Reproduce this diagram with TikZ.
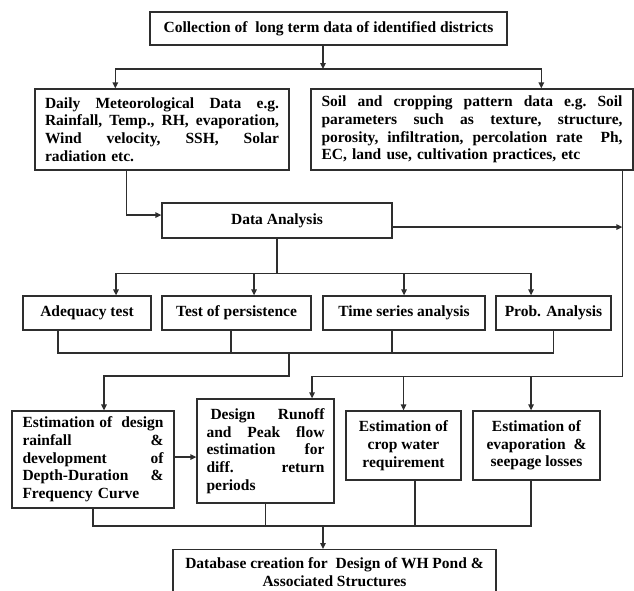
\documentclass[tikz,border=0pt]{standalone}
\usepackage{fontspec}
\setmainfont{Liberation Serif}
\usetikzlibrary{arrows.meta,calc}
\begin{document}
\begin{tikzpicture}[x=1pt,y=-1pt,
  every node/.style={font=\fontsize{15.5}{17.7}\selectfont\bfseries},
  box/.style={draw=black!82, line width=1.3pt, inner sep=0pt, align=center},
  jbox/.style={box, align=left},
  ln/.style={draw=black!82, line width=1.3pt},
  arr/.style={ln, -{Triangle[length=6pt,width=5.5pt]}}]
\useasboundingbox (0,0) rectangle (634,590);
\clip (0,0) rectangle (634,590);

% nodes
\node[box, minimum width=357pt, minimum height=33pt] (top) at (328.5,28.5)
  {Collection of~ long term data of identified districts};
\node[jbox, text width=234pt, minimum width=254pt, minimum height=81pt] (met) at (162,129.5)
  {Daily\hfill Meteorological\hfill Data\hfill e.g.\\
   Rainfall,\hfill Temp.,\hfill RH,\hfill evaporation,\\
   Wind\hfill velocity,\hfill SSH,\hfill Solar\\
   radiation etc.};
\node[jbox, text width=301pt, minimum width=322pt, minimum height=81pt] (soil) at (472,129.5)
  {Soil\hfill and\hfill cropping\hfill pattern\hfill data\hfill e.g.\hfill Soil\\
   parameters\hfill such\hfill as\hfill texture,\hfill structure,\\
   porosity,\hfill infiltration,\hfill percolation\hfill rate\hfill\hfill Ph,\\
   EC, land use, cultivation practices, etc};
\node[box, minimum width=230pt, minimum height=35pt] (da) at (277,220.5) {Data Analysis};
\node[box, minimum width=128pt, minimum height=34pt] (ad) at (87,313) {Adequacy test};
\node[box, minimum width=149pt, minimum height=34pt] (tp) at (236.5,313) {Test of persistence};
\node[box, minimum width=162pt, minimum height=34pt] (ts) at (404,313) {Time series analysis};
\node[box, minimum width=115pt, minimum height=34pt] (pa) at (553.5,313) {Prob. Analysis};
\node[jbox, text width=141pt, minimum width=162pt, minimum height=97pt] (ed) at (93,459.5)
  {Estimation\hfill of\hfill\hfill design\\
   rainfall\hfill\&\\
   development\hfill of\\
   Depth-Duration\hfill\&\\
   Frequency Curve};
\node[jbox, text width=118pt, minimum width=137pt, minimum height=104pt] (dr) at (265.5,451)
  {\hspace{4pt}Design\hfill Runoff\\
   and\hfill Peak\hfill flow\\
   estimation\hfill for\\
   diff.\hfill return\\
   periods};
\node[box, minimum width=115pt, minimum height=69pt] (cw) at (403.5,445.5)
  {Estimation of\\crop water\\requirement};
\node[box, minimum width=127pt, minimum height=69pt] (ev) at (536.5,445.5)
  {Estimation of\\evaporation~ \&\\seepage losses};
\node[box, anchor=north] (db) at (334.5,549)
  {\parbox[b][70pt][t]{323pt}{\centering\rule{0pt}{19pt}Database creation for~ Design of WH Pond \&\\Associated Structures}};

% connectors
\coordinate (j1) at (323,69);
\draw[arr] (top.south -| j1) -- (j1);
\draw[arr] (j1) -| ([xshift=81pt]met.north west);
\draw[arr] (j1) -| ([xshift=231pt]soil.north west);

\draw[arr] ([xshift=92pt]met.south west) |- ([yshift=5.5pt]da.west);

\coordinate (r1) at ([xshift=312pt]soil.south west);
\coordinate (rb) at ($(r1)+(0,206)$);
\coordinate (dae) at ([yshift=-6.5pt]da.east);
\draw[arr] (dae) -- (dae -| r1);
\draw[arr] (r1) -- (rb) -| ([xshift=46.5pt]dr.north);
\draw[arr] (cw.north |- rb) -- (cw.north);
\coordinate (evn) at ([xshift=-5.5pt]ev.north);
\draw[arr] (evn |- rb) -- (evn);

\coordinate (j2) at ($(da.south)+(0,35)$);
\draw[ln] (da.south) -- (j2);
\draw[arr] (j2) -| ([xshift=29pt]ad.north);
\draw[arr] (j2) -| ([xshift=17.5pt]tp.north);
\draw[arr] (j2) -| (ts.north);
\draw[arr] (j2) -| ([xshift=-22.5pt]pa.north);

\coordinate (j3) at (289,353);
\coordinate (ads) at ([xshift=-29pt]ad.south);
\coordinate (tps) at ([xshift=-5.5pt]tp.south);
\coordinate (tss) at ([xshift=-12pt]ts.south);
\draw[ln] (ads) |- (j3 -| pa.south) -- (pa.south);
\draw[ln] (tps) -- (tps |- j3);
\draw[ln] (tss) -- (tss |- j3);
\draw[arr] (j3) -- ++(0,23) -| ([xshift=11pt]ed.north);

\coordinate (ede) at ([yshift=2.5pt]ed.east);
\draw[arr] (ede) -- (ede -| dr.west);

\coordinate (j4) at (323,526);
\coordinate (cws) at ([xshift=11.5pt]cw.south);
\coordinate (evs) at ([xshift=-5.5pt]ev.south);
\draw[ln] (ed.south) |- (j4 -| evs) -- (evs);
\draw[ln] (dr.south) -- (dr.south |- j4);
\draw[ln] (cws) -- (cws |- j4);
\draw[arr] (j4) -- (db.north -| j4);
\end{tikzpicture}
\end{document}
